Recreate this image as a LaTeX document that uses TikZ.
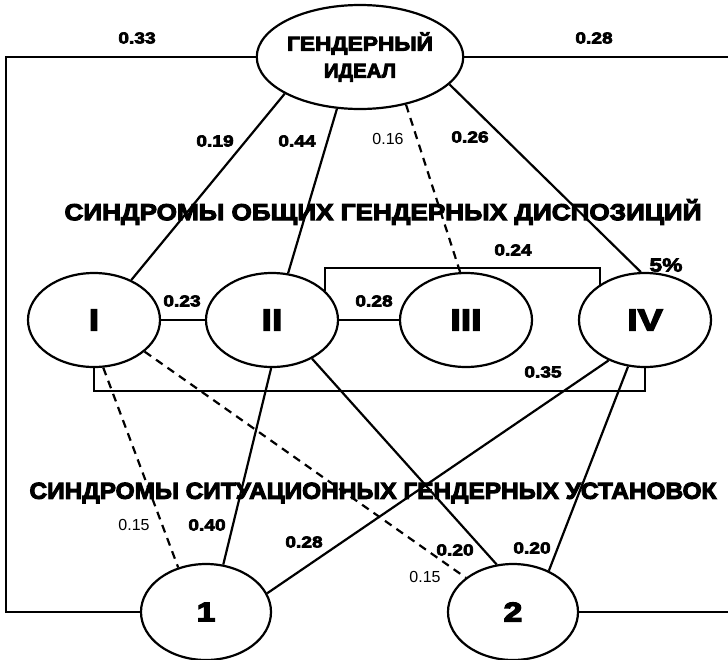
\documentclass[tikz,border=0pt]{standalone}
\usepackage{fontspec}
\usepackage{graphicx}
\setmainfont{Liberation Sans}
\newfontfamily\heavyfont[FakeBold=5,FakeStretch=1.25]{Liberation Sans Bold}
\newfontfamily\numfont[FakeBold=4,FakeStretch=1.2]{Liberation Sans Bold}
\usetikzlibrary{shapes.geometric,positioning}
\tikzset{syn node/.style={ellipse,draw,minimum width=132pt,minimum height=94pt,inner sep=0pt,
             font=\heavyfont\fontsize{30}{30}\selectfont},
         sit node/.style={ellipse,draw,minimum width=130pt,minimum height=96pt,inner sep=0pt,
             font=\heavyfont\fontsize{27}{27}\selectfont},
         ideal node/.style={ellipse,draw,minimum width=204pt,minimum height=104pt,inner sep=0pt,
             align=center,font=\heavyfont\fontsize{20}{27}\selectfont},
         wlabel/.style={inner sep=0pt,font=\numfont\fontsize{16}{16}\selectfont},
         thin label/.style={inner sep=0pt,font=\fontsize{16}{16}\selectfont},
         title/.style={inner sep=0pt,font=\heavyfont\fontsize{23}{23}\selectfont},
            }

\begin{document}
\begin{tikzpicture}[x=1pt,y=-1pt,line width=2.2pt]
    \useasboundingbox (0,0) rectangle (728,659);

    \node[ideal node] (ideal) at (360,57) {\resizebox{146pt}{\height}{ГЕНДЕРНЫЙ}\\\resizebox{72pt}{\height}{ИДЕАЛ}};
    \node[syn node] (I)   at (94,320)  {I};
    \node[syn node] (II)  at (272,320) {II};
    \node[syn node] (III) at (466,320) {III};
    \node[syn node] (IV)  at (645,320) {IV};
    \node[sit node] (1) at (206,612) {1};
    \node[sit node] (2) at (513,612) {2};

    \node[title] (gen) at (383,212) {\resizebox{637pt}{\height}{СИНДРОМЫ ОБЩИХ ГЕНДЕРНЫХ ДИСПОЗИЦИЙ}};
    \node[title] (sit) at (373,493) {\resizebox{687pt}{\height}{СИНДРОМЫ СИТУАЦИОННЫХ ГЕНДЕРНЫХ УСТАНОВОК}};

    \coordinate (lc) at (6,0);
    \coordinate (rc) at (728,0);
    \coordinate (bb) at (0,391);
    \coordinate (tb) at (0,268);

    % outer loop
    \draw (ideal.west) -- (ideal.west -| lc) -- (1.west -| lc) -- (1.west);
    \draw (ideal.east) -- (ideal.east -| rc);
    \draw (2.east) -- (2.east -| rc);

    % brackets
    \draw (II.29) -- (II.29 |- tb) -| (IV.142);
    \draw (I.south) -- (I.south |- bb) -| (IV.south);

    \path[draw]
    (ideal.206) edge (I.47)
    (ideal.246) edge (II.71)
    (ideal.314) edge[dash pattern=on 8pt off 6pt] (III.97)
    (ideal.343) edge (IV.95)
    (I) edge (II)
    (II) edge (III)
    (I.281) edge[dash pattern=on 8pt off 6pt] (1.122)
    (II.269) edge (1.70)
    (IV.228) edge (1.17)
    (I.328) edge[dash pattern=on 8pt off 6pt] (2.144)
    (II.316) edge (2.109)
    (IV.250) edge (2.49);

    \node[wlabel] (w33) at (137,38) {0.33};
    \node[wlabel] (w28t) at (594,38) {0.28};
    \node[wlabel] (w19) at (215,141) {0.19};
    \node[wlabel] (w44) at (297,141) {0.44};
    \node[thin label] (w16) at (388,139) {0.16};
    \node[wlabel] (w26) at (470,137) {0.26};
    \node[wlabel] (w23) at (182,301) {0.23};
    \node[wlabel] (w28m) at (374,301) {0.28};
    \node[wlabel] (w24) at (513,250) {0.24};
    \node[wlabel,font=\numfont\fontsize{19}{19}\selectfont] (pct) at (666,265) {5\%};
    \node[wlabel] (w35) at (543,372) {0.35};
    \node[thin label] (w15a) at (134,525) {0.15};
    \node[wlabel] (w40) at (207,525) {0.40};
    \node[wlabel] (w28b) at (304,542) {0.28};
    \node[wlabel] (w20a) at (455,550) {0.20};
    \node[thin label] (w15b) at (425,577) {0.15};
    \node[wlabel] (w20b) at (532,548) {0.20};

\end{tikzpicture}
\end{document}
